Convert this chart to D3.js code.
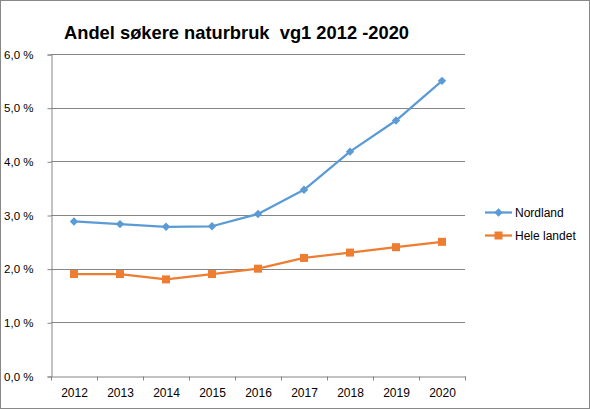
<!DOCTYPE html>
<html><head><meta charset="utf-8">
<script src="https://cdn.jsdelivr.net/npm/d3@7"></script>
<style>body{margin:0;background:#fff}svg{display:block}text{font-family:"Liberation Sans",Arial,sans-serif}</style>
</head><body><svg id="c" width="590" height="410"></svg>
<script>
const years = ["2012","2013","2014","2015","2016","2017","2018","2019","2020"];
const nordland = [2.88,2.83,2.78,2.79,3.02,3.47,4.18,4.76,5.50];
const heleLandet = [1.9,1.9,1.8,1.9,2.0,2.2,2.3,2.4,2.5];
const yTicks = [0,1,2,3,4,5,6];
const seriesNames = ["Nordland","Hele landet"];
const title = "Andel søkere naturbruk  vg1 2012 -2020";

const svg = d3.select("#c");
svg.append("rect").attr("x",0.5).attr("y",0.5).attr("width",589).attr("height",408).attr("fill","#fff").attr("stroke","#888");

const x = d3.scaleBand().domain(years).range([51,465]);
const y = d3.scaleLinear().domain([0,6]).range([376,54]);
const grid = "#868686";

svg.append("g").selectAll("line").data(yTicks.filter(d=>d>0)).join("line")
  .attr("x1",51).attr("x2",465).attr("y1",d=>Math.round(y(d))+0.5).attr("y2",d=>Math.round(y(d))+0.5)
  .attr("stroke",grid).attr("stroke-width",1);

const ya = svg.append("g").attr("transform","translate(51.5,0.5)")
  .call(d3.axisLeft(y).tickValues(yTicks).tickSize(4).tickPadding(14)
    .tickFormat(d=>d3.format(".1f")(d).replace(".",",")+" %"));
ya.selectAll("path,line").attr("stroke",grid);
ya.selectAll("text").attr("font-size",11.5).attr("fill","#000");

const xa = svg.append("g").attr("transform","translate(0.5,376.5)")
  .call(d3.axisBottom(x).tickSize(0).tickPadding(12));
xa.select("path").attr("stroke",grid);
xa.selectAll("text").attr("font-size",12).attr("fill","#000");
xa.selectAll(".tk").data(years.concat(["end"])).join("line").attr("class","tk")
  .attr("x1",(d,i)=>Math.round(i<years.length?x(d):x.range()[1])).attr("x2",(d,i)=>Math.round(i<years.length?x(d):x.range()[1]))
  .attr("y1",0).attr("y2",4).attr("stroke",grid);

const cx = d=>x(d)+x.bandwidth()/2;
const line = d3.line().x((d,i)=>cx(years[i])).y(d=>y(d));
const blue="#5B9BD5", orange="#ED7D31";

svg.append("path").datum(nordland).attr("d",line).attr("fill","none").attr("stroke",blue).attr("stroke-width",2.25).attr("stroke-linejoin","round");
svg.append("path").datum(heleLandet).attr("d",line).attr("fill","none").attr("stroke",orange).attr("stroke-width",2.25).attr("stroke-linejoin","round");

const diamondPath = "M0,-4.2L4.2,0L0,4.2L-4.2,0Z";
svg.append("g").selectAll("path").data(nordland).join("path")
  .attr("transform",(d,i)=>`translate(${cx(years[i])},${y(d)})`).attr("d",diamondPath).attr("fill",blue);
svg.append("g").selectAll("rect").data(heleLandet).join("rect")
  .attr("x",(d,i)=>cx(years[i])-4).attr("y",d=>y(d)-4).attr("width",8).attr("height",8).attr("fill",orange);

svg.append("text").attr("x",64).attr("y",39).attr("font-size",19).attr("font-weight","bold")
  .attr("font-family","'Open Sans',sans-serif").style("white-space","pre").attr("xml:space","preserve")
  .attr("textLength",345).attr("lengthAdjust","spacingAndGlyphs").text(title);

const leg = svg.append("g");
const ly=[212.5,235.5], colors=[blue,orange];
seriesNames.forEach((n,i)=>{
  leg.append("line").attr("x1",485).attr("x2",512).attr("y1",ly[i]).attr("y2",ly[i]).attr("stroke",colors[i]).attr("stroke-width",2.25);
  if(i===0) leg.append("path").attr("transform",`translate(498.5,${ly[i]})`).attr("d",diamondPath).attr("fill",blue);
  else leg.append("rect").attr("x",494.5).attr("y",ly[i]-4).attr("width",8).attr("height",8).attr("fill",orange);
  leg.append("text").attr("x",515).attr("y",ly[i]).attr("dy","0.35em").attr("font-size",12).text(n);
});
</script></body></html>
